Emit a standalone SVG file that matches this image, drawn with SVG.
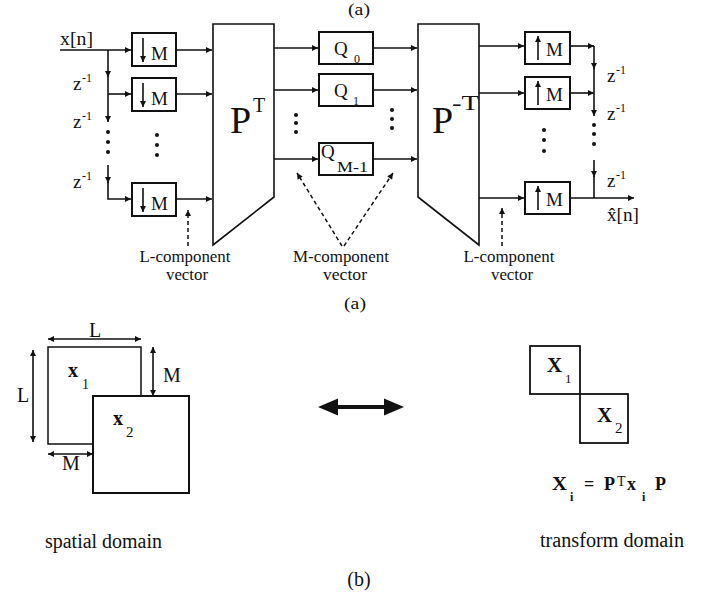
<svg xmlns="http://www.w3.org/2000/svg" width="706" height="594" viewBox="0 0 706 594">
<style>
text{font-family:"Liberation Serif","Times New Roman",serif;fill:#111}
.box{fill:#fff;stroke:#111;stroke-width:2}
.trap{fill:#fff;stroke:#111;stroke-width:1.6}
.ln{fill:none;stroke:#111;stroke-width:1.6}
.dash{fill:none;stroke:#111;stroke-width:1.5;stroke-dasharray:4 3}
.lbl{font-size:16px}
.bx{font-size:19px}
.sub{font-size:12px}
.big{font-size:38px}
.b{font-size:20px}
.bold{font-weight:bold}
.dot{fill:#111}
</style>
<defs>
<marker id="ah" viewBox="0 0 10 10" refX="10" refY="5" markerWidth="8" markerHeight="6" markerUnits="userSpaceOnUse" orient="auto-start-reverse"><path d="M0,0 L10,5 L0,10 z" fill="#111"/></marker>
</defs>

<text class="lbl" x="359" y="15" text-anchor="middle" textLength="22" lengthAdjust="spacingAndGlyphs">(a)</text>

<!-- input labels -->
<text class="bx" x="60" y="45" textLength="33" lengthAdjust="spacingAndGlyphs">x[n]</text>
<g id="zl1"><text class="bx" x="73" y="90">z</text><text class="sub" x="82" y="82">-1</text></g>
<g id="zl2"><text class="bx" x="73" y="128">z</text><text class="sub" x="82" y="120">-1</text></g>
<g id="zl3"><text class="bx" x="73" y="188">z</text><text class="sub" x="82" y="180">-1</text></g>

<!-- down-samplers -->
<g id="dn1"><rect class="box" x="132" y="33" width="44" height="33"/><line class="ln" x1="143" y1="38" x2="143" y2="62" marker-end="url(#ah)"/><text class="bx" x="151" y="60">M</text></g>
<g id="dn2"><rect class="box" x="132" y="78" width="44" height="33"/><line class="ln" x1="143" y1="83" x2="143" y2="107" marker-end="url(#ah)"/><text class="bx" x="151" y="105">M</text></g>
<g id="dn3"><rect class="box" x="132" y="183" width="44" height="33"/><line class="ln" x1="143" y1="188" x2="143" y2="212" marker-end="url(#ah)"/><text class="bx" x="151" y="210">M</text></g>

<!-- P^T -->
<g id="PT"><polygon class="trap" points="213,24 274,24 274,197 213,245"/><text class="big" x="230" y="133">P</text><text class="b" x="253" y="112">T</text></g>

<!-- Quantizers -->
<g id="Q0"><rect class="box" x="319" y="32" width="54" height="32"/><text class="bx" x="334" y="55">Q</text><text class="sub" x="354" y="63">0</text></g>
<g id="Q1"><rect class="box" x="319" y="74" width="54" height="32"/><text class="bx" x="334" y="97">Q</text><text class="sub" x="353" y="105">1</text></g>
<g id="QM"><rect class="box" x="319" y="143" width="54" height="32"/><text class="bx" x="321" y="158">Q</text><text style="font-size:14px" x="337" y="172" textLength="31" lengthAdjust="spacingAndGlyphs">M-1</text></g>

<!-- P^-T -->
<g id="PiT"><polygon class="trap" points="418,24 479,24 479,245 418,197"/><text class="big" x="432" y="133">P</text><text class="b" x="452" y="110" textLength="27" lengthAdjust="spacingAndGlyphs">-T</text></g>

<!-- up-samplers -->
<g id="up1"><rect class="box" x="525" y="32" width="45" height="32"/><line class="ln" x1="538" y1="60" x2="538" y2="36" marker-end="url(#ah)"/><text class="bx" x="546" y="56">M</text></g>
<g id="up2"><rect class="box" x="525" y="77" width="45" height="32"/><line class="ln" x1="538" y1="105" x2="538" y2="81" marker-end="url(#ah)"/><text class="bx" x="546" y="101">M</text></g>
<g id="up3"><rect class="box" x="525" y="182" width="45" height="32"/><line class="ln" x1="538" y1="210" x2="538" y2="186" marker-end="url(#ah)"/><text class="bx" x="546" y="206">M</text></g>

<g id="zr1"><text class="bx" x="607" y="82">z</text><text class="sub" x="616" y="74">-1</text></g>
<g id="zr2"><text class="bx" x="607" y="120">z</text><text class="sub" x="616" y="112">-1</text></g>
<g id="zr3"><text class="bx" x="607" y="187">z</text><text class="sub" x="616" y="179">-1</text></g>
<text class="bx" x="607" y="221" textLength="32" lengthAdjust="spacingAndGlyphs">x̂[n]</text>

<!-- dots -->
<g id="dots">
<circle class="dot" cx="108" cy="132" r="2"/><circle class="dot" cx="108" cy="142" r="2"/><circle class="dot" cx="108" cy="152" r="2"/>
<circle class="dot" cx="157" cy="135" r="2"/><circle class="dot" cx="157" cy="145" r="2"/><circle class="dot" cx="157" cy="155" r="2"/>
<circle class="dot" cx="296" cy="115" r="2"/><circle class="dot" cx="296" cy="123" r="2"/><circle class="dot" cx="296" cy="132" r="2"/>
<circle class="dot" cx="392" cy="110" r="2"/><circle class="dot" cx="392" cy="119" r="2"/><circle class="dot" cx="392" cy="128" r="2"/>
<circle class="dot" cx="544" cy="130" r="2"/><circle class="dot" cx="544" cy="140" r="2"/><circle class="dot" cx="544" cy="151" r="2"/>
<circle class="dot" cx="594" cy="125" r="2"/><circle class="dot" cx="594" cy="134" r="2"/><circle class="dot" cx="594" cy="144" r="2"/>
</g>

<!-- connectors -->
<g id="connectors">
<line class="ln" x1="60" y1="50" x2="131" y2="50" marker-end="url(#ah)"/>
<line class="ln" x1="108" y1="50" x2="108" y2="77" marker-end="url(#ah)"/>
<line class="ln" x1="108" y1="76" x2="108" y2="94"/>
<line class="ln" x1="108" y1="94" x2="131" y2="94" marker-end="url(#ah)"/>
<line class="ln" x1="108" y1="94" x2="108" y2="122" marker-end="url(#ah)"/>
<line class="ln" x1="108" y1="165" x2="108" y2="183" marker-end="url(#ah)"/>
<polyline class="ln" points="108,182 108,199 131,199" marker-end="url(#ah)"/>
<line class="ln" x1="176" y1="50" x2="212" y2="50" marker-end="url(#ah)"/>
<line class="ln" x1="176" y1="94" x2="212" y2="94" marker-end="url(#ah)"/>
<line class="ln" x1="176" y1="199" x2="212" y2="199" marker-end="url(#ah)"/>
<line class="ln" x1="274" y1="48" x2="318" y2="48" marker-end="url(#ah)"/>
<line class="ln" x1="274" y1="90" x2="318" y2="90" marker-end="url(#ah)"/>
<line class="ln" x1="274" y1="159" x2="318" y2="159" marker-end="url(#ah)"/>
<line class="ln" x1="373" y1="48" x2="417" y2="48" marker-end="url(#ah)"/>
<line class="ln" x1="373" y1="90" x2="417" y2="90" marker-end="url(#ah)"/>
<line class="ln" x1="373" y1="159" x2="417" y2="159" marker-end="url(#ah)"/>
<line class="ln" x1="479" y1="46" x2="524" y2="46" marker-end="url(#ah)"/>
<line class="ln" x1="479" y1="93" x2="524" y2="93" marker-end="url(#ah)"/>
<line class="ln" x1="479" y1="198" x2="524" y2="198" marker-end="url(#ah)"/>
<line class="ln" x1="570" y1="46" x2="594" y2="46" marker-end="url(#ah)"/>
<line class="ln" x1="570" y1="93" x2="594" y2="93" marker-end="url(#ah)"/>
<line class="ln" x1="594" y1="46" x2="594" y2="69" marker-end="url(#ah)"/>
<line class="ln" x1="594" y1="68" x2="594" y2="93"/>
<line class="ln" x1="594" y1="93" x2="594" y2="116" marker-end="url(#ah)"/>
<line class="ln" x1="594" y1="160" x2="594" y2="177" marker-end="url(#ah)"/>
<line class="ln" x1="594" y1="176" x2="594" y2="198"/>
<line class="ln" x1="570" y1="198" x2="634" y2="198" marker-end="url(#ah)"/>
<line class="dash" x1="188" y1="246" x2="188" y2="210" marker-end="url(#ah)"/>
<line class="dash" x1="342" y1="246" x2="297" y2="173" marker-end="url(#ah)"/>
<line class="dash" x1="344" y1="246" x2="393" y2="173" marker-end="url(#ah)"/>
<line class="dash" x1="502" y1="246" x2="502" y2="208" marker-end="url(#ah)"/>
</g>

<text class="lbl" x="185" y="262" text-anchor="middle" textLength="91" lengthAdjust="spacingAndGlyphs">L-component</text>
<text class="lbl" x="187" y="280" text-anchor="middle" textLength="42" lengthAdjust="spacingAndGlyphs">vector</text>
<text class="lbl" x="341" y="262" text-anchor="middle" textLength="96" lengthAdjust="spacingAndGlyphs">M-component</text>
<text class="lbl" x="345" y="280" text-anchor="middle" textLength="44" lengthAdjust="spacingAndGlyphs">vector</text>
<text class="lbl" x="509" y="262" text-anchor="middle" textLength="91" lengthAdjust="spacingAndGlyphs">L-component</text>
<text class="lbl" x="512" y="280" text-anchor="middle" textLength="42" lengthAdjust="spacingAndGlyphs">vector</text>
<text class="lbl" x="355" y="309" text-anchor="middle" textLength="22" lengthAdjust="spacingAndGlyphs">(a)</text>

<!-- part (b) -->
<g id="x1box"><rect x="48" y="347" width="93" height="97" fill="#fff" stroke="#111" stroke-width="1.5"/><text class="b bold" x="68" y="377">x</text><text style="font-size:14px" x="82" y="389">1</text></g>
<g id="x2box"><rect x="93" y="396" width="96" height="97" fill="#fff" stroke="#111" stroke-width="2"/><text class="b bold" x="113" y="425">x</text><text style="font-size:15px" x="126" y="437">2</text></g>
<g id="dims">
<line class="ln" x1="48" y1="339" x2="141" y2="339" marker-start="url(#ah)" marker-end="url(#ah)"/>
<text class="b" x="95" y="337" text-anchor="middle">L</text>
<line class="ln" x1="33" y1="350" x2="33" y2="442" marker-start="url(#ah)" marker-end="url(#ah)"/>
<text class="b" x="23" y="402" text-anchor="middle">L</text>
<line class="ln" x1="153" y1="347" x2="153" y2="396" marker-start="url(#ah)" marker-end="url(#ah)"/>
<text class="b" x="172" y="382" text-anchor="middle">M</text>
<line class="ln" x1="48" y1="454" x2="93" y2="454" marker-start="url(#ah)" marker-end="url(#ah)"/>
<text class="b" x="71" y="470" text-anchor="middle">M</text>
</g>
<g id="bigarrow"><path d="M318,407 L338,398.5 L338,405 L384,405 L384,398.5 L404,407 L384,415.5 L384,409 L338,409 L338,415.5 z" fill="#111"/></g>
<g id="X1box"><rect x="530" y="346" width="50" height="48" fill="#fff" stroke="#111" stroke-width="1.8"/><text class="bold" style="font-size:21px" x="547" y="372">X</text><text style="font-size:13px" x="565" y="383">1</text></g>
<g id="X2box"><rect x="580" y="394" width="48" height="49" fill="#fff" stroke="#111" stroke-width="1.8"/><text class="bold" style="font-size:21px" x="597" y="422">X</text><text style="font-size:15px" x="615" y="433">2</text></g>
<g id="formula">
<text class="bold" style="font-size:18px" x="552" y="490" textLength="15" lengthAdjust="spacingAndGlyphs">X</text>
<text class="bold" style="font-size:12px" x="570" y="501">i</text>
<text class="bold" style="font-size:18px" x="584" y="490">=</text>
<text class="bold" style="font-size:18px" x="604" y="490">P</text>
<text style="font-size:14px" x="617" y="486">T</text>
<text class="bold" style="font-size:18px" x="627" y="490">x</text>
<text class="bold" style="font-size:12px" x="642" y="501">i</text>
<text class="bold" style="font-size:18px" x="655" y="490">P</text>
</g>
<text class="b" x="45" y="548" textLength="117" lengthAdjust="spacingAndGlyphs">spatial domain</text>
<text class="b" x="540" y="547" textLength="144" lengthAdjust="spacingAndGlyphs">transform domain</text>
<text class="b" x="359" y="586" text-anchor="middle">(b)</text>
</svg>
